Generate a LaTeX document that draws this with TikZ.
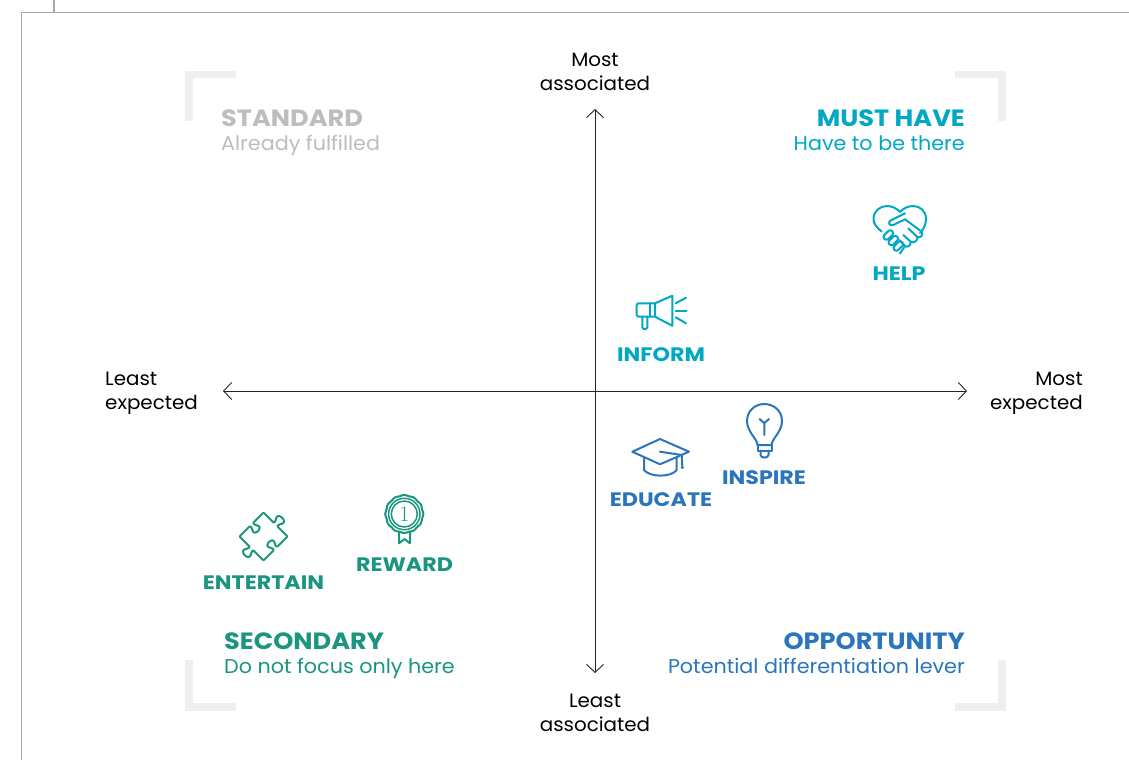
\documentclass[tikz,border=0pt]{standalone}
\usepackage{fontspec}
\setmainfont{Poppins}
\newfontfamily\ftitle[FakeStretch=1.09]{Poppins}
\newfontfamily\flab[FakeStretch=1.14]{Poppins}
\newfontfamily\fsub[FakeStretch=1.035]{Poppins}
\newfontfamily\fax[FakeStretch=1.03]{Poppins}
\usetikzlibrary{arrows.meta}
\definecolor{cy}{HTML}{00A8C4}
\definecolor{bl}{HTML}{2A75BB}
\definecolor{gr}{HTML}{1A957F}
\definecolor{gy}{HTML}{BDBDBD}
\definecolor{br}{HTML}{EFEFEF}
\tikzset{
 x=1pt,y=-1pt,
 axis/.style={draw=black!85,line width=0.9pt,{Straight Barb[length=8pt,width=17pt]}-{Straight Barb[length=8pt,width=17pt]}},
 axlabel/.style={inner sep=0,align=center,font=\fax\fontsize{19.3}{24}\selectfont,text=black},
 title/.style={inner sep=0,font=\ftitle\fontsize{23.5}{26}\selectfont\bfseries},
 sub/.style={inner sep=0,font=\fsub\fontsize{20}{24}\selectfont},
 lab/.style={inner sep=0,font=\flab\fontsize{19.5}{24}\selectfont\bfseries},
 brk/.style={draw=br,line width=7.5pt,miter limit=10},
 ico/.style={line width=2pt,line join=round,line cap=round},
 frm/.style={draw=gy!90!black,line width=1.2pt}
}
\begin{document}
\begin{tikzpicture}
\useasboundingbox (0,0) rectangle (1129,760);
% frame
\draw[frm] (54,0) -- (54,12.5);
\draw[frm] (1129,12.5) -- (21.5,12.5) -- (21.5,760);
% brackets
\draw[brk] (236,74.5) -- (189,74.5) -- (189,121);
\draw[brk] (955,74.5) -- (1002,74.5) -- (1002,121);
\draw[brk] (236,707) -- (189,707) -- (189,660);
\draw[brk] (955,707) -- (1002,707) -- (1002,660);
% axes
\coordinate (L) at (223,391); \coordinate (R) at (967,391);
\coordinate (T) at (595,109); \coordinate (B) at (595,673);
\draw[axis] (L) -- (R);
\draw[axis] (B) -- (T);
\node[axlabel] (mostA) at (595,72) {Most\\associated};
\node[axlabel] (leastA) at (595,712.5) {Least\\associated};
\node[axlabel,align=left,anchor=west] (leastE) at (105,393) {Least\\expected};
\node[axlabel,align=right,anchor=east] (mostE) at (1083,393) {Most\\expected};
% quadrant titles
\node[title,text=gy,anchor=base west] (std) at (221,126) {STANDARD};
\node[sub,text=gy,anchor=base west] (stds) at (221,150) {Already fulfilled};
\node[title,text=cy,anchor=base east] (must) at (965,126) {MUST HAVE};
\node[sub,text=cy,anchor=base east] (musts) at (965,150) {Have to be there};
\node[title,text=gr,anchor=base west] (sec) at (224,649) {SECONDARY};
\node[sub,text=gr,anchor=base west] (secs) at (224,673) {Do not focus only here};
\node[title,text=bl,anchor=base east] (opp) at (965,649) {OPPORTUNITY};
\node[sub,text=bl,anchor=base east] (opps) at (965,673) {Potential differentiation lever};
% item labels
\node[lab,text=cy,anchor=base] (help) at (899,280.2) {HELP};
\node[lab,text=cy,anchor=base] (inform) at (661,361.2) {INFORM};
\node[lab,text=bl,anchor=base] (inspire) at (764,484.2) {INSPIRE};
\node[lab,text=bl,anchor=base] (educate) at (661,506.2) {EDUCATE};
\node[lab,text=gr,anchor=base] (reward) at (404.5,571.2) {REWARD};
\node[lab,text=gr,anchor=base] (entertain) at (263.5,589.2) {ENTERTAIN};
% handshake heart
\begin{scope}[ico,draw=cy]
\draw (881.7,231.7) .. controls (876.5,227) and (873.5,224) .. (873.5,219) .. controls (873.5,211) and (880,206) .. (887,206) .. controls (892,206) and (897,208.5) .. (900,212) .. controls (903,208.5) and (908,206) .. (913,206) .. controls (920,206) and (926,211) .. (926,219) .. controls (926,225) and (923,230) .. (920,233);
\draw (905,213.3) -- (890.5,220.5) .. controls (887.5,222.5) and (889.5,226.5) .. (893.3,225) -- (905,219.3) -- (921.5,231.5) .. controls (924,235) and (920,239) .. (917,236.7) -- (908.3,228.3);
\draw (917,236.7) .. controls (918.5,240) and (914,244) .. (910.7,241.7) -- (903.3,235);
\draw (910.7,241.7) .. controls (911,245.5) and (907.5,248) .. (905,246) -- (899.3,240);
\draw (905,246) -- (900,253.5);
\foreach \cx/\cy in {888.3/235,893.3/240.5,898.3/246}
 \draw[shift={(\cx,\cy)},rotate=45,rounded corners=2.6pt] (-5.5,-2.8) rectangle (5.5,2.8);
\end{scope}
% megaphone
\begin{scope}[ico,draw=cy]
\draw[rounded corners=2pt] (655,303.3) -- (636.7,303.3) -- (636.7,316.7) -- (655,316.7);
\draw (655,303.3) -- (672.3,295.7) -- (672.3,325.7) -- (655,316.7) -- cycle;
\draw (650,303.3) -- (650,316.7);
\draw[rounded corners=1.5pt] (642.3,316.7) -- (642.3,329) -- (647.3,329) -- (647.3,316.7);
\draw (675.7,303.3) -- (686,297.7);
\draw (675.7,310.7) -- (686.7,310.7);
\draw (675.7,317.3) -- (686,323.3);
\end{scope}
% bulb
\begin{scope}[ico,draw=bl]
\draw (757.5,445) .. controls (757.5,439) and (747,432) .. (747,421) .. controls (747,411) and (755,404) .. (764.3,404) .. controls (774,404) and (782,411) .. (782,421) .. controls (782,432) and (771.5,439) .. (771.5,445) -- cycle;
\draw (757.5,445) -- (757.5,450.5) -- (771.5,450.5) -- (771.5,445);
\draw (760.5,450.5) -- (760.5,455) .. controls (761,458.5) and (768,458.5) .. (768.5,455) -- (768.5,450.5);
\draw (764.3,435) -- (764.3,423) -- (759.5,419);
\draw (764.3,423) -- (769,419);
\end{scope}
% cap
\begin{scope}[ico,draw=bl]
\draw (660,439) -- (689,451.7) -- (660,464.3) -- (632.3,451.7) -- cycle;
\draw (644,458) -- (644,470) .. controls (650,477.5) and (671,477.5) .. (676.7,470) -- (676.7,457.5);
\draw (660,451.7) -- (681.7,455) -- (682.3,466);
\fill[bl] (682.3,467.5) circle (1.7);
\end{scope}
% puzzle
\begin{scope}[ico,draw=gr,shift={(263.5,536.5)},rotate=45]
\draw[rounded corners=1pt] (-17,-17) -- (-4,-17) .. controls (-2,-17) and (-1.5,-15.5) .. (-3,-13) .. controls (-7,-6) and (7,-6) .. (3,-13) .. controls (1.5,-15.5) and (2,-17) .. (4,-17) -- (17,-17)
 -- (17,-4) .. controls (17,-2) and (18.5,-2) .. (21,-3.5) .. controls (28,-7.5) and (28,7.5) .. (21,3.5) .. controls (18.5,2) and (17,2) .. (17,4) -- (17,17)
 -- (4,17) .. controls (2,17) and (1.5,15.5) .. (3,13) .. controls (7,6) and (-7,6) .. (-3,13) .. controls (-1.5,15.5) and (-2,17) .. (-4,17) -- (-17,17)
 -- (-17,4) .. controls (-17,2) and (-18.5,2) .. (-21,3.5) .. controls (-28,7.5) and (-28,-7.5) .. (-21,-3.5) .. controls (-18.5,-2) and (-17,-2) .. (-17,-4) -- cycle;
\end{scope}
% medal
\begin{scope}[ico,draw=gr]
\draw[line width=1.5pt] (404.3,514) circle (15.7);
\draw[line width=1.5pt] (404.3,514) circle (13);
\draw plot[smooth cycle,samples=48,domain=0:352.5] ({404.3+(18.7+0.4*cos(12*\x))*cos(\x)},{514+(18.7+0.4*cos(12*\x))*sin(\x)});
\draw (399,532) -- (399,543.3) -- (404.5,539) -- (410,543.3) -- (410,532);
\node[inner sep=0,text=gr,font=\fontfamily{lmr}\fontsize{22}{22}\selectfont] (one) at (404.3,514) {1};
\end{scope}
\end{tikzpicture}
\end{document}
